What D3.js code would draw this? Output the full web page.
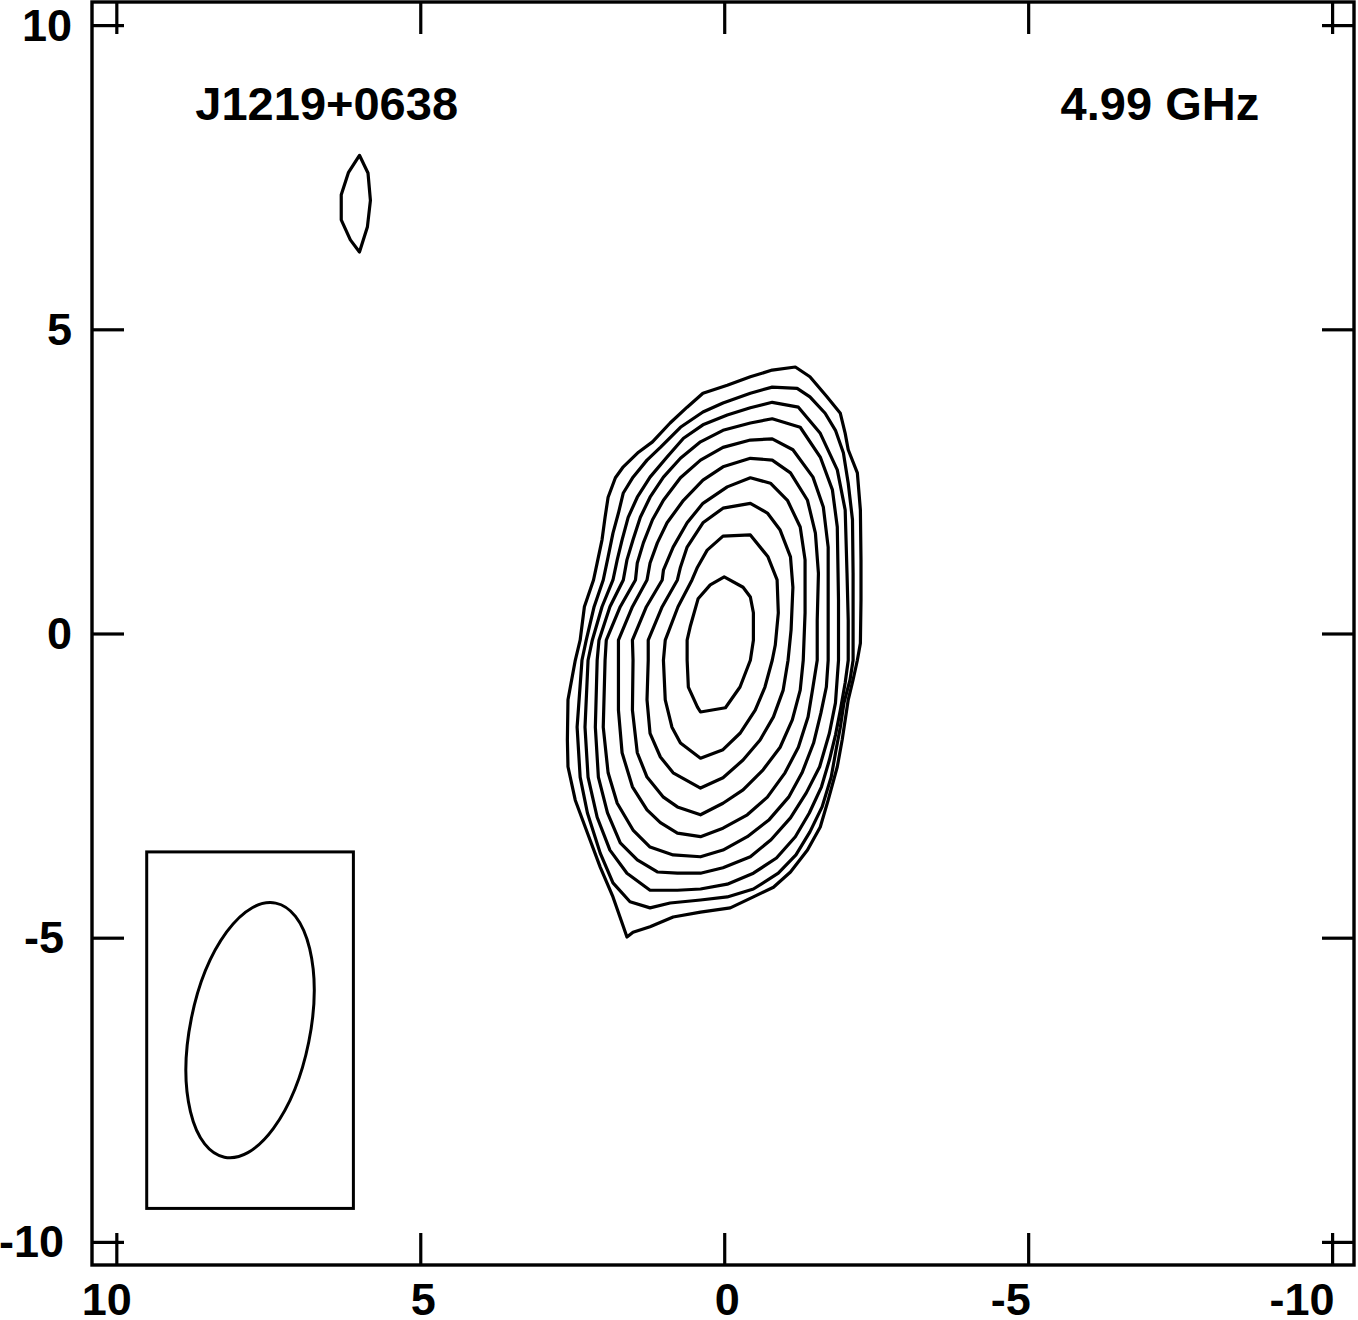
<!DOCTYPE html>
<html>
<head>
<meta charset="utf-8">
<script src="https://cdn.jsdelivr.net/npm/d3@7"></script>
<style>
  body { margin: 0; background: #fff; }
  text { font-family: "Liberation Sans", Arial, Helvetica, sans-serif; font-weight: bold; fill: #000; }
</style>
</head>
<body>
<div id="chart"></div>
<script>
var sourceName = "J1219+0638";
var frequencyLabel = "4.99 GHz";
var xTicks = [10, 5, 0, -5, -10];
var yTicks = [10, 5, 0, -5, -10];

// contours, [relative RA (mas), relative Dec (mas)], outermost first
var contour1 = [[-0.43,4.22],[-0.79,4.33],[-1.17,4.38],[-1.41,4.22],[-1.69,3.89],[-1.91,3.62],[-1.99,3.29],[-2.04,3.02],[-2.19,2.64],[-2.24,2.03],[-2.25,1.21],[-2.25,0.55],[-2.24,-0.16],[-2.19,-0.44],[-2.12,-0.76],[-2.04,-1.09],[-1.99,-1.42],[-1.94,-1.75],[-1.86,-2.19],[-1.71,-2.74],[-1.58,-3.18],[-1.37,-3.56],[-1.09,-3.92],[-0.81,-4.17],[-0.48,-4.33],[-0.10,-4.51],[0.39,-4.58],[0.84,-4.66],[1.22,-4.82],[1.50,-4.91],[1.60,-4.99],[1.68,-4.76],[1.83,-4.33],[2.04,-3.84],[2.25,-3.28],[2.45,-2.74],[2.57,-2.19],[2.58,-1.75],[2.57,-1.09],[2.45,-0.44],[2.37,-0.11],[2.30,0.44],[2.15,0.88],[2.09,1.16],[2.01,1.54],[1.96,1.91],[1.91,2.24],[1.79,2.56],[1.66,2.74],[1.41,2.98],[1.18,3.15],[0.89,3.46],[0.61,3.72],[0.35,3.95],[-0.05,4.08]];
var contour2 = [[-0.43,3.95],[-0.79,4.05],[-1.20,4.03],[-1.41,3.89],[-1.66,3.62],[-1.83,3.34],[-1.96,2.97],[-2.04,2.47],[-2.11,1.87],[-2.12,0.99],[-2.12,0.22],[-2.12,-0.44],[-2.07,-0.76],[-1.97,-1.14],[-1.91,-1.54],[-1.84,-1.91],[-1.76,-2.36],[-1.61,-2.85],[-1.41,-3.26],[-1.18,-3.64],[-0.89,-3.94],[-0.48,-4.20],[-0.05,-4.33],[0.39,-4.38],[0.89,-4.43],[1.22,-4.51],[1.55,-4.41],[1.83,-4.10],[2.04,-3.61],[2.25,-2.95],[2.37,-2.36],[2.42,-1.54],[2.34,-0.44],[2.27,-0.11],[2.14,0.44],[1.99,0.88],[1.91,1.26],[1.83,1.65],[1.74,1.98],[1.66,2.31],[1.50,2.57],[1.27,2.85],[1.05,3.06],[0.72,3.39],[0.35,3.64],[0.02,3.79]];
var contour3 = [[-0.43,3.71],[-0.79,3.80],[-1.22,3.72],[-1.58,3.29],[-1.86,2.69],[-1.99,2.03],[-2.02,0.99],[-2.04,0.22],[-2.04,-0.44],[-1.99,-0.81],[-1.91,-1.26],[-1.83,-1.67],[-1.73,-2.08],[-1.60,-2.52],[-1.40,-2.95],[-1.17,-3.34],[-0.86,-3.69],[-0.48,-3.94],[-0.05,-4.12],[0.39,-4.20],[0.77,-4.22],[1.22,-4.22],[1.60,-3.94],[1.88,-3.56],[2.09,-3.02],[2.24,-2.36],[2.29,-1.54],[2.24,-0.44],[2.17,-0.11],[2.01,0.44],[1.83,0.88],[1.76,1.21],[1.68,1.54],[1.58,1.91],[1.43,2.24],[1.22,2.57],[0.94,2.90],[0.67,3.21],[0.35,3.43],[-0.05,3.59]];
var contour4 = [[-0.43,3.46],[-0.79,3.53],[-1.25,3.39],[-1.58,2.90],[-1.78,2.36],[-1.86,1.75],[-1.88,0.55],[-1.88,-0.44],[-1.83,-1.14],[-1.73,-1.64],[-1.57,-2.19],[-1.35,-2.62],[-1.09,-3.03],[-0.77,-3.39],[-0.43,-3.67],[0.02,-3.85],[0.39,-3.94],[0.77,-3.94],[1.10,-3.92],[1.43,-3.72],[1.71,-3.44],[1.92,-2.95],[2.07,-2.36],[2.12,-1.54],[2.09,-0.44],[2.06,-0.11],[1.88,0.44],[1.66,0.88],[1.60,1.21],[1.50,1.54],[1.38,1.91],[1.22,2.24],[1.00,2.57],[0.72,2.88],[0.39,3.15],[0.02,3.34]];
var contour5 = [[-0.43,3.18],[-0.79,3.20],[-1.13,3.02],[-1.46,2.57],[-1.63,2.08],[-1.71,1.42],[-1.71,0.55],[-1.71,-0.44],[-1.68,-0.88],[-1.59,-1.31],[-1.47,-1.80],[-1.28,-2.29],[-1.06,-2.69],[-0.74,-3.06],[-0.38,-3.34],[0.02,-3.56],[0.39,-3.67],[0.84,-3.64],[1.22,-3.51],[1.50,-3.23],[1.76,-2.79],[1.91,-2.29],[1.99,-1.54],[1.96,-0.44],[1.94,-0.11],[1.71,0.44],[1.46,0.88],[1.43,1.16],[1.33,1.49],[1.18,1.87],[1.00,2.19],[0.72,2.56],[0.39,2.85],[0.02,3.06]];
var contour6 = [[-0.43,2.88],[-0.79,2.85],[-1.09,2.64],[-1.37,2.19],[-1.50,1.65],[-1.55,0.99],[-1.53,0.22],[-1.53,-0.44],[-1.46,-0.88],[-1.38,-1.37],[-1.22,-1.87],[-1.00,-2.29],[-0.71,-2.69],[-0.38,-2.98],[0.02,-3.20],[0.39,-3.34],[0.77,-3.28],[1.05,-3.11],[1.27,-2.90],[1.51,-2.52],[1.68,-1.96],[1.74,-1.26],[1.74,-0.44],[1.74,-0.11],[1.51,0.44],[1.27,0.88],[1.22,1.16],[1.10,1.49],[0.94,1.82],[0.67,2.19],[0.35,2.52],[0.02,2.74]];
var contour7 = [[-0.43,2.56],[-0.76,2.47],[-1.04,2.19],[-1.25,1.75],[-1.33,1.21],[-1.33,0.34],[-1.30,-0.44],[-1.25,-0.93],[-1.12,-1.42],[-0.92,-1.87],[-0.64,-2.24],[-0.31,-2.57],[0.02,-2.79],[0.39,-2.98],[0.77,-2.85],[1.00,-2.69],[1.27,-2.36],[1.43,-1.96],[1.51,-1.26],[1.50,-0.44],[1.51,-0.11],[1.28,0.44],[1.02,0.88],[1.00,1.04],[0.84,1.42],[0.61,1.82],[0.35,2.14],[-0.05,2.41]];
var contour8 = [[-0.43,2.14],[-0.71,1.98],[-0.92,1.70],[-1.09,1.26],[-1.13,0.76],[-1.10,0.06],[-1.05,-0.44],[-0.97,-0.93],[-0.81,-1.37],[-0.59,-1.75],[-0.31,-2.08],[0.02,-2.37],[0.39,-2.54],[0.84,-2.29],[1.05,-2.03],[1.22,-1.64],[1.27,-1.09],[1.25,-0.44],[1.25,-0.11],[1.02,0.44],[0.77,0.88],[0.72,1.09],[0.61,1.42],[0.35,1.82],[0.02,2.06]];
var contour9 = [[-0.43,1.62],[-0.72,1.26],[-0.87,0.88],[-0.89,0.34],[-0.84,-0.19],[-0.79,-0.44],[-0.67,-0.88],[-0.51,-1.26],[-0.26,-1.64],[0.02,-1.91],[0.39,-2.05],[0.72,-1.80],[0.86,-1.54],[0.97,-1.09],[1.00,-0.44],[0.97,-0.11],[0.76,0.44],[0.53,0.88],[0.44,1.09],[0.28,1.37],[0.02,1.60]];
var contour10 = [[0,0.93],[-0.31,0.76],[-0.43,0.60],[-0.48,0.34],[-0.48,-0.11],[-0.43,-0.44],[-0.26,-0.88],[-0.02,-1.22],[0.39,-1.29],[0.44,-1.21],[0.59,-0.88],[0.61,-0.44],[0.61,-0.11],[0.56,0.11],[0.43,0.57],[0.23,0.80]];
// lone lowest-level island north-east of the core
var islandContour = [[6.00,7.86],[5.86,7.57],[5.82,7.12],[5.87,6.68],[6.00,6.27],[6.15,6.47],[6.30,6.80],[6.30,7.21],[6.18,7.58]];

var contours = [contour1, contour2, contour3, contour4, contour5, contour6, contour7, contour8, contour9, contour10, islandContour];

// restoring beam: centre (mas), semi-axes (mas), position angle (deg, E of N)
var beamCenter = [7.8, -6.52];
var beamMajor = 2.13;
var beamMinor = 0.985;
var beamPA = -11.4;

var margin = { top: 2, left: 92, right: 4, bottom: 55 },
    width = 1262,
    height = 1263;

var svg = d3.select("#chart")
  .append("svg")
  .attr("width", width + margin.left + margin.right)
  .attr("height", height + margin.top + margin.bottom)
  .append("g")
  .attr("transform", "translate(" + margin.left + "," + margin.top + ")");

var xPositionScale = d3.scaleLinear()
  .domain([10.4, -10.36])
  .range([0, width]);

var yPositionScale = d3.scaleLinear()
  .domain([-10.38, 10.38])
  .range([height, 0]);

var line = d3.line()
  .x(function(d) { return xPositionScale(d[0]); })
  .y(function(d) { return yPositionScale(d[1]); })
  .curve(d3.curveLinearClosed);

svg.selectAll(".contour")
  .data(contours)
  .enter().append("path")
  .attr("class", "contour")
  .attr("d", line)
  .attr("fill", "none")
  .attr("stroke", "#000")
  .attr("stroke-width", 3.2)
  .attr("stroke-linejoin", "round");

// beam box and ellipse
var bx = xPositionScale(beamCenter[0]),
    by = yPositionScale(beamCenter[1]);

svg.append("rect")
  .attr("x", xPositionScale(beamCenter[0] + 1.7))
  .attr("y", yPositionScale(beamCenter[1] + 2.93))
  .attr("width", xPositionScale(beamCenter[0] - 1.7) - xPositionScale(beamCenter[0] + 1.7))
  .attr("height", yPositionScale(beamCenter[1] - 2.93) - yPositionScale(beamCenter[1] + 2.93))
  .attr("fill", "none")
  .attr("stroke", "#000")
  .attr("stroke-width", 3);

svg.append("ellipse")
  .attr("cx", bx)
  .attr("cy", by)
  .attr("rx", xPositionScale(0) - xPositionScale(beamMinor))
  .attr("ry", yPositionScale(0) - yPositionScale(beamMajor))
  .attr("transform", "rotate(" + (-beamPA) + "," + bx + "," + by + ")")
  .attr("fill", "none")
  .attr("stroke", "#000")
  .attr("stroke-width", 3);

// frame
svg.append("rect")
  .attr("width", width)
  .attr("height", height)
  .attr("fill", "none")
  .attr("stroke", "#000")
  .attr("stroke-width", 3.4);

// axes: inward ticks on all four sides
var plainFormat = function(d) { return String(d); };

var xAxis = d3.axisBottom(xPositionScale).tickValues(xTicks).tickSize(-32).tickSizeOuter(0).tickFormat(plainFormat);
svg.append("g")
  .attr("class", "axis x-axis")
  .attr("transform", "translate(0," + height + ")")
  .call(xAxis);

var yAxis = d3.axisLeft(yPositionScale).tickValues(yTicks).tickSize(-32).tickSizeOuter(0).tickFormat(plainFormat);
svg.append("g")
  .attr("class", "axis y-axis")
  .call(yAxis);

svg.append("g")
  .attr("class", "axis x-axis-top")
  .call(d3.axisTop(xPositionScale).tickValues(xTicks).tickSize(-32).tickSizeOuter(0).tickFormat(""));

svg.append("g")
  .attr("class", "axis y-axis-right")
  .attr("transform", "translate(" + width + ",0)")
  .call(d3.axisRight(yPositionScale).tickValues(yTicks).tickSize(-32).tickSizeOuter(0).tickFormat(""));

svg.selectAll(".axis .domain").remove();
svg.selectAll(".axis line")
  .attr("stroke", "#000")
  .attr("stroke-width", 3.2);

svg.selectAll(".x-axis text")
  .attr("y", 50)
  .attr("dy", null)
  .attr("text-anchor", "end")
  .attr("dx", function(d) { return d < 0 ? 2 : 15; })
  .style("font-size", "45px")
  .attr("font-family", null);

svg.selectAll(".y-axis text")
  .attr("x", function(d) { return d < 0 ? -28 : -20; })
  .attr("dy", 15)
  .attr("text-anchor", "end")
  .style("font-size", "45px")
  .attr("font-family", null);

// labels
svg.append("text")
  .attr("x", xPositionScale(8.7))
  .attr("y", yPositionScale(8.44))
  .attr("text-anchor", "start")
  .style("font-size", "47px")
  .text(sourceName);

svg.append("text")
  .attr("x", xPositionScale(-8.8))
  .attr("y", yPositionScale(8.44))
  .attr("text-anchor", "end")
  .style("font-size", "47px")
  .text(frequencyLabel);
</script>
</body>
</html>
